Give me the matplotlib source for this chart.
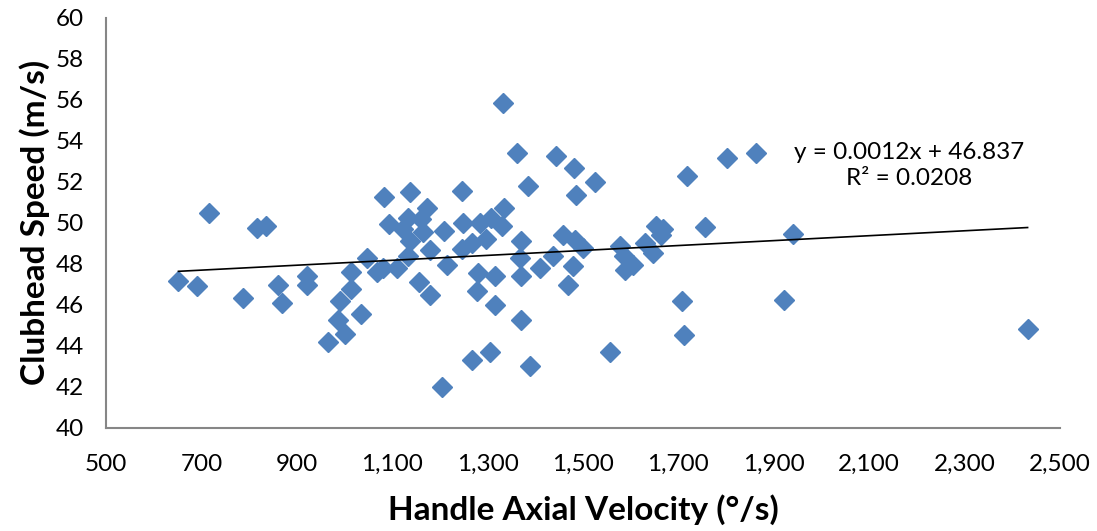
"""
Clubhead speed vs handle axial velocity, with linear trend line.
"""
import numpy as np
import matplotlib
matplotlib.use("Agg")
import matplotlib.pyplot as plt

plt.rcParams["font.family"] = ["Lato", "DejaVu Sans"]

# handle axial velocity (deg/s)
axial_vel = [
    652, 690, 717, 788, 817, 835, 861, 868, 921, 922, 966,
    987, 991, 1001, 1013, 1013, 1034, 1047, 1068, 1081, 1083, 1094, 1110,
    1123, 1134, 1137, 1137, 1134, 1156, 1160, 1172, 1165, 1179, 1180, 1204,
    1209, 1215, 1247, 1249, 1284, 1308, 1334, 1331, 1247, 1268, 1297, 1279,
    1316, 1277, 1316, 1267, 1305,
    1333, 1361, 1385, 1443, 1482, 1485, 1526, 1371, 1459, 1483, 1501, 1368,
    1438, 1410, 1371, 1480, 1469, 1370, 1389, 1557,
    1578, 1586, 1605, 1589, 1630, 1647, 1654, 1668, 1663, 1756, 1707, 1712,
    1717, 1801, 1863, 1921, 1941, 2432,
]
# clubhead speed (m/s)
club_speed = [
    47.13, 46.89, 50.47, 46.30, 49.74, 49.85, 46.93, 46.07, 47.37, 46.97, 44.16,
    45.26, 46.19, 44.56, 47.58, 46.77, 45.55, 48.27, 47.58, 47.78, 51.24, 49.94, 47.80,
    49.66, 50.23, 51.50, 49.12, 48.39, 47.11, 50.15, 50.72, 49.56, 48.68, 46.48, 42.00,
    49.57, 47.92, 51.54, 49.99, 49.99, 50.20, 50.69, 49.82, 48.73, 49.02, 49.22, 47.54,
    47.37, 46.64, 45.97, 43.30, 43.66,
    55.82, 53.37, 51.78, 53.24, 52.67, 51.32, 52.00, 49.09, 49.41, 49.17, 48.76, 48.27,
    48.35, 47.78, 47.37, 47.86, 46.97, 45.26, 43.02, 43.66,
    48.84, 48.39, 47.95, 47.70, 49.02, 48.52, 49.84, 49.66, 49.39, 49.76, 46.17, 44.52,
    52.26, 53.13, 53.41, 46.23, 49.46, 44.80,
]

# trend line as reported on the chart
SLOPE = 0.0012
INTERCEPT = 46.837
R2 = 0.0208

BLUE = "#4F81BD"
GREY = "#868686"

fig = plt.figure(figsize=(10.97, 5.31), dpi=100)
ax = fig.add_axes([0.0966, 0.1949, 0.8697, 0.7721])

x = np.array(axial_vel)
y = np.array(club_speed)
ax.plot(x, y, linestyle="none", marker="D", ms=10.5, color=BLUE,
        markeredgecolor=BLUE, zorder=3)

x_fit = np.array([x.min(), x.max()])
ax.plot(x_fit, SLOPE * x_fit + INTERCEPT, color="black", lw=1.2, zorder=4)

ax.text(0.842, 0.639, f"y = {SLOPE}x + {INTERCEPT}\nR² = {R2}",
        transform=ax.transAxes, ha="center", va="center",
        fontsize=17.5, linespacing=1.25)

ax.set_xlim(500, 2500)
ax.set_ylim(40, 60)
ax.set_xticks(np.arange(500, 2501, 200))
ax.set_yticks(np.arange(40, 61, 2))
ax.xaxis.set_major_formatter(matplotlib.ticker.StrMethodFormatter("{x:,.0f}"))
ax.tick_params(length=0, labelsize=17.5)
ax.tick_params(axis="y", pad=16)
ax.tick_params(axis="x", pad=19)

for side in ["top", "right"]:
    ax.spines[side].set_visible(False)
for side in ["left", "bottom"]:
    ax.spines[side].set_color(GREY)
    ax.spines[side].set_linewidth(1.5)

ax.set_xlabel("Handle Axial Velocity (°/s)", fontsize=24, fontweight="bold", labelpad=14)
ax.set_ylabel("Clubhead Speed (m/s)", fontsize=24, fontweight="bold", labelpad=4)

fig.savefig("out.png", dpi=100)
